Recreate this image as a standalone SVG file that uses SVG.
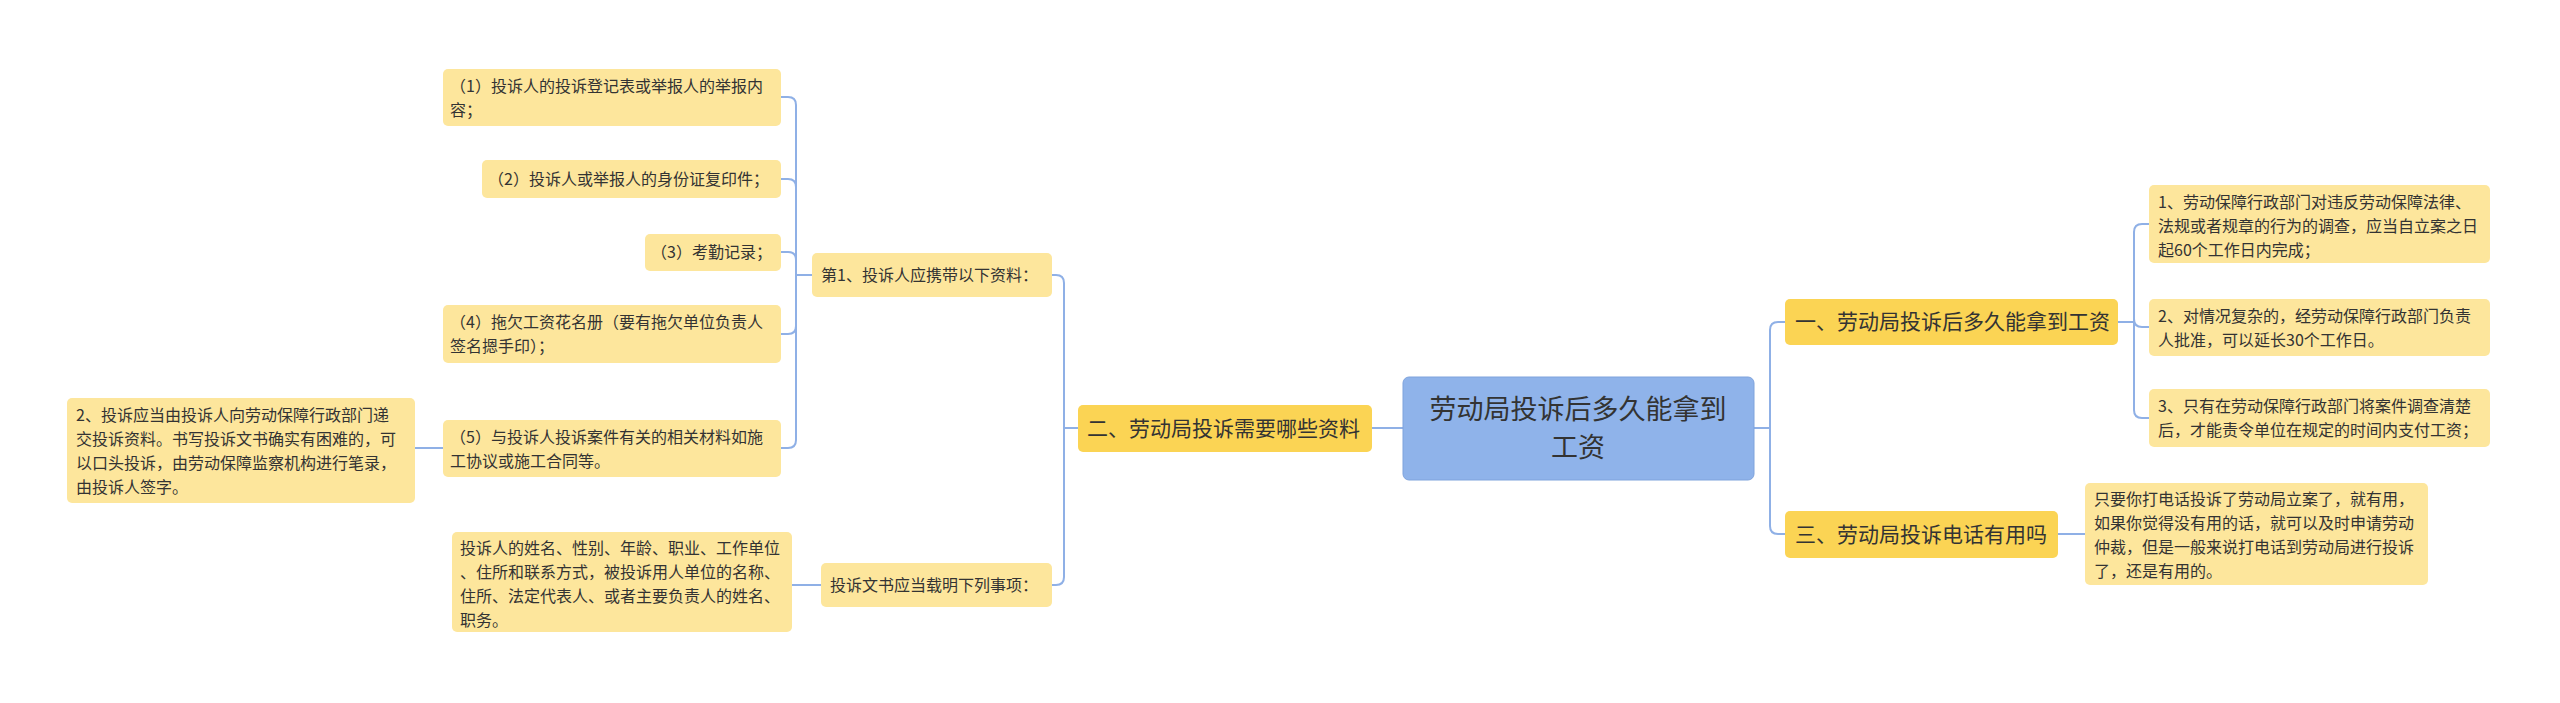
<svg xmlns="http://www.w3.org/2000/svg" width="2560" height="703" viewBox="0 0 2560 703">
<style>
.leaf{fill:#fde69c}
.br{fill:#fbd454}
.root{fill:#8fb3ea;stroke:#7fa3dc;stroke-width:1}
text{font-family:"Noto Sans CJK SC","Liberation Sans",sans-serif;fill:#333}
.t{font-size:16px}
.b{font-size:21px}
.r{font-size:27px}
.c path{fill:none;stroke:#8fb0e6;stroke-width:2}
</style>
<rect width="2560" height="703" fill="#fff"/>
<g class="c">
<path d="M1754 428 H1770 V330 Q1770 322 1778 322 H1785"/>
<path d="M1754 428 H1770 V526 Q1770 534 1778 534 H1785"/>
<path d="M2118 322 H2134 V232 Q2134 224 2142 224 H2149"/>
<path d="M2118 322 H2134 V319 Q2134 327 2142 327 H2149"/>
<path d="M2118 322 H2134 V410 Q2134 418 2142 418 H2149"/>
<path d="M2058 534 H2085"/>
<path d="M1403 428 H1372"/>
<path d="M1078 428 H1064 V283 Q1064 275 1056 275 H1052"/>
<path d="M1078 428 H1064 V577 Q1064 585 1056 585 H1052"/>
<path d="M812 275 H796 V105 Q796 97 788 97 H781"/>
<path d="M812 275 H796 V187 Q796 179 788 179 H781"/>
<path d="M812 275 H796 V260 Q796 252 788 252 H781"/>
<path d="M812 275 H796 V326 Q796 334 788 334 H781"/>
<path d="M812 275 H796 V440 Q796 448 788 448 H781"/>
<path d="M443 448 H415"/>
<path d="M821 585 H792"/>
</g>
<g id="root"><rect class="root" x="1403" y="377" width="351" height="103" rx="6"/>
<text class="r" text-anchor="middle" x="1578"><tspan x="1578" y="419">劳动局投诉后多久能拿到</tspan><tspan x="1578" y="457">工资</tspan></text></g>
<g id="b1"><rect class="br" x="1785" y="299" width="333" height="46" rx="5"/><text class="b" x="1795" y="329">一、劳动局投诉后多久能拿到工资</text></g>
<g id="b3"><rect class="br" x="1785" y="511" width="273" height="47" rx="5"/><text class="b" x="1795" y="542">三、劳动局投诉电话有用吗</text></g>
<g id="b2"><rect class="br" x="1078" y="405" width="294" height="47" rx="5"/><text class="b" x="1087" y="436">二、劳动局投诉需要哪些资料</text></g>
<g id="r1"><rect class="leaf" x="2149" y="185" width="341" height="78" rx="5"/><text class="t"><tspan x="2158" y="208">1、劳动保障行政部门对违反劳动保障法律、</tspan><tspan x="2158" y="232">法规或者规章的行为的调查，应当自立案之日</tspan><tspan x="2158" y="256">起60个工作日内完成；</tspan></text></g>
<g id="r2"><rect class="leaf" x="2149" y="299" width="341" height="57" rx="5"/><text class="t"><tspan x="2158" y="322">2、对情况复杂的，经劳动保障行政部门负责</tspan><tspan x="2158" y="346">人批准，可以延长30个工作日。</tspan></text></g>
<g id="r3"><rect class="leaf" x="2149" y="389" width="341" height="58" rx="5"/><text class="t"><tspan x="2158" y="412">3、只有在劳动保障行政部门将案件调查清楚</tspan><tspan x="2158" y="436">后，才能责令单位在规定的时间内支付工资；</tspan></text></g>
<g id="r4"><rect class="leaf" x="2085" y="483" width="343" height="102" rx="5"/><text class="t"><tspan x="2094" y="505">只要你打电话投诉了劳动局立案了，就有用，</tspan><tspan x="2094" y="529">如果你觉得没有用的话，就可以及时申请劳动</tspan><tspan x="2094" y="553">仲裁，但是一般来说打电话到劳动局进行投诉</tspan><tspan x="2094" y="577">了，还是有用的。</tspan></text></g>
<g id="s1"><rect class="leaf" x="812" y="253" width="240" height="44" rx="5"/><text class="t" x="821" y="281">第1、投诉人应携带以下资料：</text></g>
<g id="s2"><rect class="leaf" x="821" y="563" width="231" height="44" rx="5"/><text class="t" x="830" y="591">投诉文书应当载明下列事项：</text></g>
<g id="l1"><rect class="leaf" x="443" y="69" width="338" height="57" rx="5"/><text class="t"><tspan x="450" y="92">（1）投诉人的投诉登记表或举报人的举报内</tspan><tspan x="450" y="116">容；</tspan></text></g>
<g id="l2"><rect class="leaf" x="482" y="160" width="299" height="38" rx="5"/><text class="t" x="488" y="185">（2）投诉人或举报人的身份证复印件；</text></g>
<g id="l3"><rect class="leaf" x="645" y="234" width="136" height="37" rx="5"/><text class="t" x="651" y="258">（3）考勤记录；</text></g>
<g id="l4"><rect class="leaf" x="443" y="305" width="338" height="58" rx="5"/><text class="t"><tspan x="450" y="328">（4）拖欠工资花名册（要有拖欠单位负责人</tspan><tspan x="450" y="352">签名摁手印）；</tspan></text></g>
<g id="l5"><rect class="leaf" x="443" y="420" width="338" height="57" rx="5"/><text class="t"><tspan x="450" y="443">（5）与投诉人投诉案件有关的相关材料如施</tspan><tspan x="450" y="467">工协议或施工合同等。</tspan></text></g>
<g id="l6"><rect class="leaf" x="67" y="398" width="348" height="105" rx="5"/><text class="t"><tspan x="76" y="421">2、投诉应当由投诉人向劳动保障行政部门递</tspan><tspan x="76" y="445">交投诉资料。书写投诉文书确实有困难的，可</tspan><tspan x="76" y="469">以口头投诉，由劳动保障监察机构进行笔录，</tspan><tspan x="76" y="493">由投诉人签字。</tspan></text></g>
<g id="l7"><rect class="leaf" x="452" y="532" width="340" height="100" rx="5"/><text class="t"><tspan x="460" y="554">投诉人的姓名、性别、年龄、职业、工作单位</tspan><tspan x="460" y="578">、住所和联系方式，被投诉用人单位的名称、</tspan><tspan x="460" y="602">住所、法定代表人、或者主要负责人的姓名、</tspan><tspan x="460" y="626">职务。</tspan></text></g>
</svg>
